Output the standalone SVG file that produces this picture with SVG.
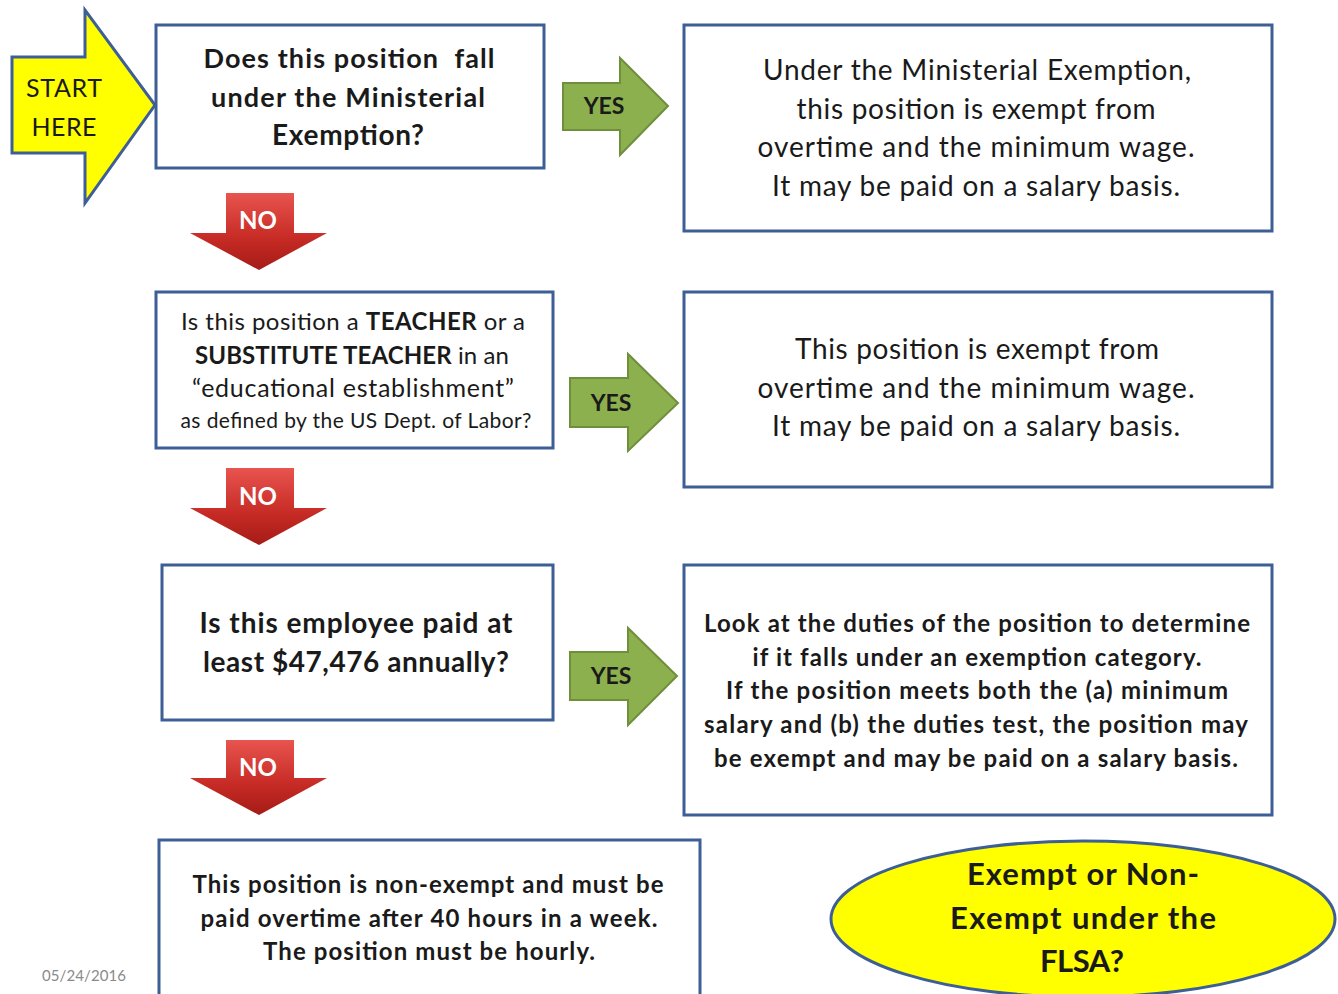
<svg xmlns="http://www.w3.org/2000/svg" width="1338" height="994" viewBox="0 0 1338 994">
<defs>
<linearGradient id="red" x1="0" y1="0" x2="0" y2="1">
<stop offset="0" stop-color="#e8544f"/>
<stop offset="0.6" stop-color="#c62a24"/>
<stop offset="1" stop-color="#a51c17"/>
</linearGradient>
<style>
.box{fill:#fff;stroke:#3d5f96;stroke-width:3}
.t{font-family:Lato,"Liberation Sans",sans-serif;fill:#1a1a1a;text-anchor:middle}
.b{font-weight:bold}
.yes{fill:#8db04f;stroke:#6f8f3d;stroke-width:2}
.no{fill:url(#red)}
.lbl{font-family:Lato,"Liberation Sans",sans-serif;font-weight:bold;text-anchor:middle}
</style>
</defs>
<rect width="1338" height="994" fill="#fff"/>

<g id="start">
<polygon points="12,57 85,57 85,10 155,105 85,203 85,153 12,153" fill="#ffff00" stroke="#3d5f96" stroke-width="3"/>
<text class="t" x="64" y="97" font-size="25" textLength="76" lengthAdjust="spacing">START</text>
<text class="t" x="64" y="136" font-size="25" textLength="65" lengthAdjust="spacing">HERE</text>
</g>

<g id="q1">
<rect class="box" x="156" y="25" width="388" height="143"/>
<text class="t b" x="349" y="68" font-size="27" textLength="291" lengthAdjust="spacing" xml:space="preserve">Does this position  fall</text>
<text class="t b" x="348" y="107" font-size="27" textLength="274" lengthAdjust="spacing">under the Ministerial</text>
<text class="t b" x="348" y="145" font-size="28" textLength="152" lengthAdjust="spacing">Exemption?</text>
</g>

<g id="r1">
<rect class="box" x="684" y="25" width="588" height="206"/>
<text class="t" x="977" y="80" font-size="28" textLength="428" lengthAdjust="spacing">Under the Ministerial Exemption,</text>
<text class="t" x="976" y="119" font-size="28" textLength="359" lengthAdjust="spacing">this position is exempt from</text>
<text class="t" x="976" y="157" font-size="28" textLength="437" lengthAdjust="spacing">overtime and the minimum wage.</text>
<text class="t" x="976" y="196" font-size="28" textLength="408" lengthAdjust="spacing">It may be paid on a salary basis.</text>
</g>

<g id="q2">
<rect class="box" x="156" y="292" width="397" height="156"/>
<text class="t" x="353" y="330" font-size="24" textLength="344" lengthAdjust="spacing">Is this position a <tspan font-weight="bold">TEACHER</tspan> or a</text>
<text class="t" x="352" y="364" font-size="24" textLength="314" lengthAdjust="spacing"><tspan font-weight="bold">SUBSTITUTE TEACHER</tspan> in an</text>
<text class="t" x="353" y="397" font-size="25" textLength="322" lengthAdjust="spacing">“educational establishment”</text>
<text class="t" x="356" y="428" font-size="21" textLength="351" lengthAdjust="spacing">as defined by the US Dept. of Labor?</text>
</g>

<g id="r2">
<rect class="box" x="684" y="292" width="588" height="195"/>
<text class="t" x="977" y="359" font-size="28" textLength="364" lengthAdjust="spacing">This position is exempt from</text>
<text class="t" x="976" y="398" font-size="28" textLength="437" lengthAdjust="spacing">overtime and the minimum wage.</text>
<text class="t" x="976" y="436" font-size="28" textLength="408" lengthAdjust="spacing">It may be paid on a salary basis.</text>
</g>

<g id="q3">
<rect class="box" x="162" y="565" width="391" height="155"/>
<text class="t b" x="356" y="633" font-size="28" textLength="313" lengthAdjust="spacing">Is this employee paid at</text>
<text class="t b" x="356" y="672" font-size="28" textLength="306" lengthAdjust="spacing">least $47,476 annually?</text>
</g>

<g id="r3">
<rect class="box" x="684" y="565" width="588" height="250"/>
<text class="t b" x="977" y="632" font-size="24" textLength="546" lengthAdjust="spacing">Look at the duties of the position to determine</text>
<text class="t b" x="977" y="666" font-size="24" textLength="449" lengthAdjust="spacing">if it falls under an exemption category.</text>
<text class="t b" x="977" y="699" font-size="24" textLength="502" lengthAdjust="spacing">If the position meets both the (a) minimum</text>
<text class="t b" x="976" y="733" font-size="24" textLength="544" lengthAdjust="spacing">salary and (b) the duties test, the position may</text>
<text class="t b" x="976" y="767" font-size="24" textLength="524" lengthAdjust="spacing">be exempt and may be paid on a salary basis.</text>
</g>

<g id="r4">
<rect class="box" x="159" y="840" width="541" height="170"/>
<text class="t b" x="428" y="893" font-size="24" textLength="471" lengthAdjust="spacing">This position is non-exempt and must be</text>
<text class="t b" x="429" y="927" font-size="24" textLength="457" lengthAdjust="spacing">paid overtime after 40 hours in a week.</text>
<text class="t b" x="429" y="960" font-size="24" textLength="332" lengthAdjust="spacing">The position must be hourly.</text>
</g>

<g id="title">
<ellipse cx="1083" cy="919" rx="252" ry="78" fill="#ffff00" stroke="#3d5f96" stroke-width="3"/>
<text class="t b" x="1083" y="885" font-size="31" textLength="232" lengthAdjust="spacing">Exempt or Non-</text>
<text class="t b" x="1083" y="929" font-size="31" textLength="266" lengthAdjust="spacing">Exempt under the</text>
<text class="t b" x="1082" y="972" font-size="31" textLength="84" lengthAdjust="spacing">FLSA?</text>
</g>

<g id="connectors">
<polygon class="yes" points="563,83 620,83 620,58 668,106 620,155 620,130 563,130"/>
<text class="lbl" x="604" y="114" font-size="23" fill="#1a1a1a">YES</text>
<polygon class="yes" points="570,378 628,378 628,354 678,403 628,451 628,427 570,427"/>
<text class="lbl" x="611" y="411" font-size="23" fill="#1a1a1a">YES</text>
<polygon class="yes" points="570,652 628,652 628,628 677,676 628,725 628,700 570,700"/>
<text class="lbl" x="611" y="684" font-size="23" fill="#1a1a1a">YES</text>

<polygon class="no" points="226,193 294,193 294,233 327,233 259,270 190,233 226,233"/>
<text class="lbl" x="258" y="229" font-size="24" fill="#fff">NO</text>
<polygon class="no" points="226,468 294,468 294,508 327,508 259,545 190,508 226,508"/>
<text class="lbl" x="258" y="505" font-size="24" fill="#fff">NO</text>
<polygon class="no" points="226,740 294,740 294,778 327,778 259,815 190,778 226,778"/>
<text class="lbl" x="258" y="776" font-size="24" fill="#fff">NO</text>
</g>

<text x="42" y="981" font-family="Lato,'Liberation Sans',sans-serif" font-size="15" fill="#8a8a8a" textLength="84" lengthAdjust="spacing">05/24/2016</text>
</svg>
